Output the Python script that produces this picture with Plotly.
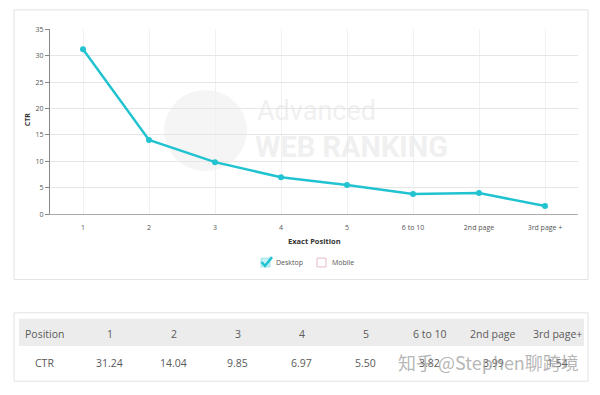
import plotly.graph_objects as go

# ---- data ----
positions = ["1", "2", "3", "4", "5", "6 to 10", "2nd page", "3rd page +"]
ctr_desktop = [31.24, 14.04, 9.85, 6.97, 5.50, 3.82, 3.99, 1.54]
table_headers = ["1", "2", "3", "4", "5", "6 to 10", "2nd page", "3rd page+"]
y_ticks = [0, 5, 10, 15, 20, 25, 30, 35]

W, H = 600, 395
def px(x):
    return x / W
def py(y):
    return 1 - y / H

TEAL = "#22c3d1"
FONT = "Open Sans"

fig = go.Figure()
fig.add_trace(go.Scatter(
    x=positions, y=ctr_desktop, mode="lines+markers",
    line=dict(color=TEAL, width=2.5),
    marker=dict(color=TEAL, size=6),
    showlegend=False, hoverinfo="skip"))

shapes = []
annotations = []

def note(text, x, y, font, xanchor="center", **kw):
    annotations.append(dict(text=text, xref="paper", yref="paper", x=px(x), y=py(y),
                            xanchor=xanchor, yanchor="middle", showarrow=False, font=font, **kw))

# chart card
shapes.append(dict(type="rect", xref="paper", yref="paper", x0=px(14), x1=px(588), y0=py(281), y1=py(5),
                   line=dict(color="#e2e2e2", width=1), fillcolor="rgba(0,0,0,0)", layer="below"))
# watermark globe
shapes.append(dict(type="circle", xref="paper", yref="paper", x0=px(164), x1=px(247), y0=py(170), y1=py(87),
                   line=dict(width=0), fillcolor="rgba(230,230,230,0.4)", layer="below"))
note("Advanced", 255, 108, dict(family="Roboto", size=27, color="rgba(225,225,225,0.5)"), xanchor="left")
note("<b>WEB RANKING</b>", 253, 145, dict(family="Roboto", size=29, color="rgba(225,225,225,0.5)"), xanchor="left")

# axis titles
note("<b>CTR</b>", 27, 117, dict(family=FONT, size=7, color="#333"), textangle=-90)
note("<b>Exact Position</b>", 314, 241, dict(family=FONT, size=7.5, color="#333"))

# legend
shapes.append(dict(type="rect", xref="paper", yref="paper", x0=px(261), x1=px(270), y0=py(268), y1=py(259),
                   line=dict(color="#9fe3ea", width=1), fillcolor="#c9f1f5"))
shapes.append(dict(type="path", xref="paper", yref="paper",
                   path=f"M {px(261.5)} {py(263)} L {px(265)} {py(267)} L {px(272)} {py(258)}",
                   line=dict(color=TEAL, width=2.5)))
note("Desktop", 274, 264, dict(family=FONT, size=7, color="#555"), xanchor="left")
shapes.append(dict(type="rect", xref="paper", yref="paper", x0=px(317), x1=px(326), y0=py(268), y1=py(259),
                   line=dict(color="#e8b9c6", width=1), fillcolor="white"))
note("Mobile", 330, 264, dict(family=FONT, size=7, color="#555"), xanchor="left")

# table card
shapes.append(dict(type="rect", xref="paper", yref="paper", x0=px(14), x1=px(588), y0=py(385), y1=py(315),
                   line=dict(color="#e2e2e2", width=1), fillcolor="white"))
shapes.append(dict(type="rect", xref="paper", yref="paper", x0=px(19), x1=px(584), y0=py(349), y1=py(321),
                   line=dict(width=0), fillcolor="#ececec"))
TFONT = dict(family="Open Sans", size=10.5, color="#5a5a5a")
note("Position", 44, 337, TFONT)
note("CTR", 44, 366, TFONT)
for i, (h, v) in enumerate(zip(table_headers, ctr_desktop)):
    cx = 110 + i * 63.9
    note(h, cx, 337, TFONT)
    note(f"{v:.2f}", cx, 366, TFONT)

# zhihu watermark
note("知乎 @Stephen聊跨境", 488, 365, dict(family="Noto Sans CJK SC", size=18, color="rgba(150,150,150,0.7)"))

fig.update_layout(
    width=W, height=H, margin=dict(l=0, r=0, t=0, b=0),
    paper_bgcolor="white", plot_bgcolor="rgba(0,0,0,0)",
    shapes=shapes, annotations=annotations,
    xaxis=dict(domain=[px(50), px(578)], range=[-0.5, 7.5], type="category",
               showgrid=True, gridcolor="#f1f1f1", gridwidth=1,
               showline=True, linecolor="#aaaaaa", linewidth=1,
               ticks="", ticklabelstandoff=6,
               tickfont=dict(family=FONT, size=7, color="#555"), zeroline=False, fixedrange=True),
    yaxis=dict(domain=[py(214), py(25)], range=[0, 35], tickvals=y_ticks,
               showgrid=True, gridcolor="#e6e6e6", gridwidth=1,
               showline=True, linecolor="#888888", linewidth=1,
               ticks="outside", ticklen=4, tickcolor="#888888",
               tickfont=dict(family=FONT, size=7, color="#555"), zeroline=False, fixedrange=True),
)

fig.write_html("out.html")
